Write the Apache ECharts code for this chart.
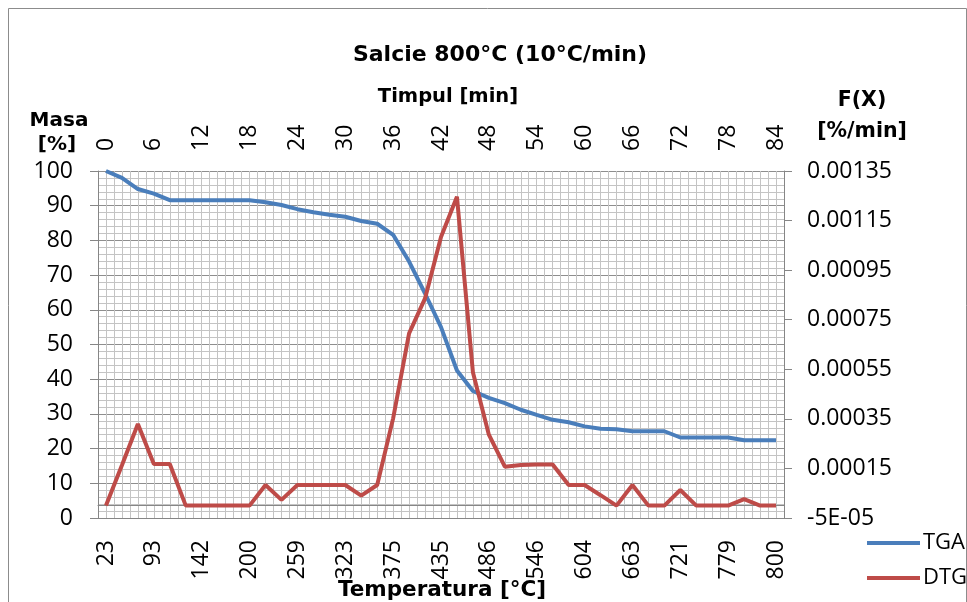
<!DOCTYPE html>
<html><head><meta charset="utf-8">
<script src="https://cdn.jsdelivr.net/npm/echarts@6/dist/echarts.min.js"></script>
<style>html,body{margin:0;padding:0;background:#fff}#c{width:967px;height:602px}</style>
</head><body><div id="c"></div>
<script>
// Time axis (top) in minutes
const timeMin = [0,2,4,6,8,10,12,14,16,18,20,22,24,26,28,30,32,34,36,38,40,42,44,46,48,50,52,54,56,58,60,62,64,66,68,70,72,74,76,78,80,82,84];
// Temperature axis (bottom) in °C (only every third label is visible in the picture; others estimated)
const temperature = [23,45,69,93,110,126,142,161,181,200,220,240,259,280,302,323,340,358,375,395,415,435,452,469,486,506,526,546,565,585,604,624,643,663,682,702,721,740,760,779,800,800,800];
// TGA mass [%]
const tga = [100,98,94.8,93.5,91.6,91.6,91.6,91.6,91.6,91.6,91.0,90.2,89.0,88.1,87.4,86.8,85.6,84.8,81.6,73.9,64.7,55.0,42.5,36.6,34.6,33.1,31.2,29.7,28.3,27.6,26.4,25.7,25.6,25.0,25.0,25.0,23.2,23.2,23.2,23.2,22.4,22.4,22.4];
// DTG F(X) [%/min]
const dtg = [0,0.000163,0.000329,0.000168,0.000168,0,0,0,0,0,0.000083,0.000023,0.000083,0.000083,0.000083,0.000083,0.00004,0.000083,0.000352,0.000695,0.000836,0.001084,0.001246,0.000538,0.000286,0.000157,0.000164,0.000166,0.000166,0.000083,0.000083,0.000042,0,0.000083,0,0,0.000063,0,0,0,0.000026,0,0];
const seriesNames = ['TGA','DTG'];

const tickFont = 'Open Sans';
const axisGray = '#868686';

const chart = echarts.init(document.getElementById('c'));
chart.setOption({
  animation: false,
  backgroundColor: '#fff',
  grid: {left: 98, right: 183, top: 171, bottom: 84, containLabel: false},
  legend: {
    orient: 'vertical', left: 862, top: 527, itemWidth: 53, itemHeight: 4, itemGap: 13,
    icon: 'rect', data: seriesNames,
    textStyle: {fontFamily: tickFont, fontSize: 22, color: '#000', padding: [0,0,0,-2]}
  },
  xAxis: [
    {type: 'category', position: 'bottom', data: temperature, boundaryGap: true,
     axisLine: {lineStyle: {color: axisGray}},
     axisTick: {interval: 0, length: 8, lineStyle: {color: axisGray}},
     axisLabel: {interval: 2, rotate: 90, margin: 22, color: '#000', fontFamily: tickFont, fontSize: 23},
     splitLine: {show: false}},
    {type: 'category', position: 'top', data: timeMin, boundaryGap: true,
     axisLine: {lineStyle: {color: axisGray}},
     axisTick: {interval: 0, length: 8, lineStyle: {color: axisGray}},
     axisLabel: {interval: 2, rotate: 90, margin: 20, color: '#000', fontFamily: tickFont, fontSize: 23},
     splitLine: {show: false}},
    {type: 'value', position: 'bottom', min: 0, max: 86, interval: 1,
     axisLine: {show: false}, axisTick: {show: false}, axisLabel: {show: false},
     splitLine: {show: true, lineStyle: {color: '#c4c4c4', width: 1}}}
  ],
  yAxis: [
    {type: 'value', position: 'left', min: 0, max: 100, interval: 10,
     axisLine: {show: true, lineStyle: {color: axisGray}},
     axisTick: {show: true, length: 8, lineStyle: {color: axisGray}},
     axisLabel: {margin: 25, color: '#000', fontFamily: tickFont, fontSize: 23},
     splitLine: {show: true, lineStyle: {color: '#8e8e8e', width: 1}},
     minorTick: {show: false, splitNumber: 5},
     minorSplitLine: {show: true, lineStyle: {color: '#c4c4c4', width: 1}}},
    {type: 'value', position: 'right', min: -0.00005, max: 0.00135, interval: 0.0002,
     axisLine: {show: true, lineStyle: {color: axisGray}},
     axisTick: {show: true, length: 8, lineStyle: {color: axisGray}},
     axisLabel: {margin: 23, color: '#000', fontFamily: tickFont, fontSize: 23,
       formatter: function (v) { return Math.abs(v + 0.00005) < 1e-9 ? '-5E-05' : v.toFixed(5); }},
     splitLine: {show: false}}
  ],
  series: [
    {name: seriesNames[0], type: 'line', xAxisIndex: 0, yAxisIndex: 0, data: tga,
     showSymbol: false, symbol: 'none', lineStyle: {color: '#4a7ebb', width: 4}, itemStyle: {color: '#4a7ebb'}, z: 3},
    {name: seriesNames[1], type: 'line', xAxisIndex: 0, yAxisIndex: 1, data: dtg,
     showSymbol: false, symbol: 'none', lineStyle: {color: '#be4b48', width: 4}, itemStyle: {color: '#be4b48'}, z: 4}
  ],
  graphic: [
    {type: 'rect', shape: {x: 8.5, y: 8.5, width: 958, height: 600}, style: {fill: 'none', stroke: '#8c8c8c', lineWidth: 1}, silent: true},
    {type: 'text', x: 500, y: 55, style: {text: 'Salcie 800°C (10°C/min)', font: 'bold 22px "DejaVu Sans"', fill: '#000', textAlign: 'center', textVerticalAlign: 'middle'}},
    {type: 'text', x: 448, y: 97, style: {text: 'Timpul [min]', font: 'bold 19.5px "DejaVu Sans"', fill: '#000', textAlign: 'center', textVerticalAlign: 'middle'}},
    {type: 'text', x: 59, y: 121, style: {text: 'Masa', font: 'bold 20px "DejaVu Sans"', fill: '#000', textAlign: 'center', textVerticalAlign: 'middle'}},
    {type: 'text', x: 57, y: 145, style: {text: '[%]', font: 'bold 20px "DejaVu Sans"', fill: '#000', textAlign: 'center', textVerticalAlign: 'middle'}},
    {type: 'text', x: 862, y: 101, style: {text: 'F(X)', font: 'bold 20.5px "DejaVu Sans"', fill: '#000', textAlign: 'center', textVerticalAlign: 'middle'}},
    {type: 'text', x: 862, y: 132, style: {text: '[%/min]', font: 'bold 20.5px "DejaVu Sans"', fill: '#000', textAlign: 'center', textVerticalAlign: 'middle'}},
    {type: 'text', x: 442, y: 590, style: {text: 'Temperatura [°C]', font: 'bold 21.5px "DejaVu Sans"', fill: '#000', textAlign: 'center', textVerticalAlign: 'middle'}}
  ]
});
</script></body></html>
